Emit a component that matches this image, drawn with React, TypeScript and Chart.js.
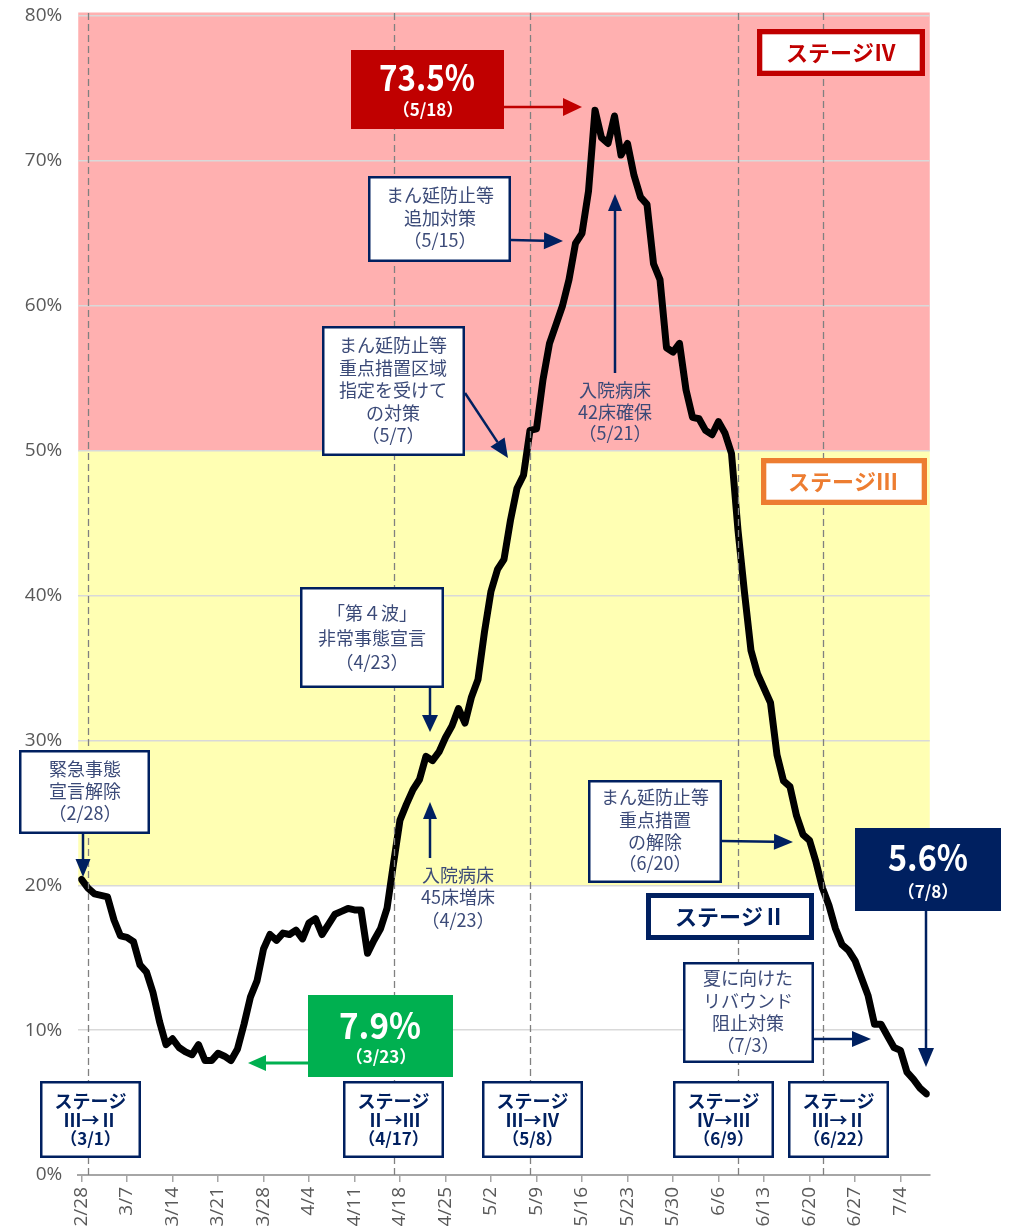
import React, { useEffect, useRef } from "react";
import { Chart, registerables } from "chart.js";

Chart.register(...registerables);

// ---- data ----
// days counted from 2/28 (index 0) to 7/8 (index 130)
const weekTickLabels = ["2/28", "3/7", "3/14", "3/21", "3/28", "4/4", "4/11", "4/18", "4/25", "5/2", "5/9", "5/16", "5/23", "5/30", "6/6", "6/13", "6/20", "6/27", "7/4"];
const weekTickDays = [0, 7, 14, 21, 28, 35, 42, 49, 56, 63, 70, 77, 84, 91, 98, 105, 112, 119, 126];

const occupancy = [
  20.4, 19.8, 19.4, 19.3, 19.2, 17.6, 16.5, 16.4, 16.1, 14.5,
  14.0, 12.6, 10.6, 9.0, 9.4, 8.8, 8.5, 8.3, 9.0, 7.9,
  7.9, 8.4, 8.2, 7.9, 8.7, 10.4, 12.3, 13.4, 15.6, 16.6,
  16.2, 16.7, 16.6, 16.9, 16.3, 17.4, 17.7, 16.6, 17.3, 18.0,
  18.2, 18.4, 18.3, 18.3, 15.3, 16.2, 17.0, 18.4, 21.5, 24.5,
  25.6, 26.6, 27.3, 28.9, 28.6, 29.2, 30.2, 31.0, 32.2, 31.2,
  33.0, 34.2, 37.5, 40.3, 41.8, 42.5, 45.2, 47.4, 48.3, 51.4,
  51.5, 54.9, 57.4, 58.7, 60.0, 61.8, 64.3, 65.0, 67.9, 73.5,
  71.6, 71.2, 73.1, 70.4, 71.2, 69.0, 67.5, 67.0, 62.9, 61.8,
  57.1, 56.8, 57.4, 54.2, 52.3, 52.2, 51.4, 51.1, 52.0, 51.2,
  49.8, 44.5, 40.2, 36.2, 34.6, 33.6, 32.6, 29.0, 27.2, 26.8,
  24.8, 23.5, 23.1, 21.6, 19.8, 18.6, 17.0, 15.9, 15.5, 14.8,
  13.6, 12.4, 10.4, 10.4, 9.6, 8.8, 8.6, 7.1, 6.6, 6.0, 5.6,
];

const stageChangeDates = ["3/1", "4/17", "5/8", "6/9", "6/22"];
const stageBandLimits = [20, 50, 80]; // stage III: 20-50, stage IV: 50-80

function dayIndex(md: string): number {
  const [m, d] = md.split("/").map(Number);
  return Math.round((Date.UTC(2021, m - 1, d) - Date.UTC(2021, 1, 28)) / 86400000);
}

// ---- styles ----
const JP = '"Noto Sans CJK JP", "Noto Sans", sans-serif';
const NAVY = "#002060";
const NOTE = "#3b4a78";
const RED = "#c00000";
const ORANGE = "#ed7d31";
const GREEN = "#00b050";
const YELLOW = "#ffffb3";
const PINK = "#ffb0b0";

function rect(ctx: CanvasRenderingContext2D, x: number, y: number, w: number, h: number, fill: string | null, stroke: string | null, lw = 2.5) {
  ctx.save();
  if (fill) {
    ctx.fillStyle = fill;
    ctx.fillRect(x, y, w, h);
  }
  if (stroke) {
    ctx.strokeStyle = stroke;
    ctx.lineWidth = lw;
    ctx.strokeRect(x + lw / 2, y + lw / 2, w - lw, h - lw);
  }
  ctx.restore();
}

function txt(ctx: CanvasRenderingContext2D, s: string, x: number, y: number, font: string, color: string, maxW?: number) {
  ctx.save();
  ctx.font = font;
  ctx.fillStyle = color;
  ctx.textAlign = "center";
  ctx.textBaseline = "middle";
  if (maxW) ctx.fillText(s, x, y, maxW);
  else ctx.fillText(s, x, y);
  ctx.restore();
}

function lines(ctx: CanvasRenderingContext2D, arr: string[], x: number, ys: number[], font: string, color: string) {
  arr.forEach((s, i) => txt(ctx, s, x, ys[i], font, color));
}

function arrow(ctx: CanvasRenderingContext2D, x1: number, y1: number, x2: number, y2: number, color: string, lw = 2.5, hl = 18, hw = 16) {
  const ang = Math.atan2(y2 - y1, x2 - x1);
  const c = Math.cos(ang);
  const s = Math.sin(ang);
  const bx = x2 - hl * c;
  const by = y2 - hl * s;
  ctx.save();
  ctx.strokeStyle = color;
  ctx.fillStyle = color;
  ctx.lineWidth = lw;
  ctx.beginPath();
  ctx.moveTo(x1, y1);
  ctx.lineTo(bx, by);
  ctx.stroke();
  ctx.beginPath();
  ctx.moveTo(x2, y2);
  ctx.lineTo(bx - (hw / 2) * s, by + (hw / 2) * c);
  ctx.lineTo(bx + (hw / 2) * s, by - (hw / 2) * c);
  ctx.closePath();
  ctx.fill();
  ctx.restore();
}

const decorPlugin = {
  id: "decor",
  beforeDraw(chart: any) {
    const { ctx, chartArea: a, scales } = chart;
    const y = scales.y;
    const y20 = y.getPixelForValue(stageBandLimits[0]);
    const y50 = y.getPixelForValue(stageBandLimits[1]);
    const y80 = y.getPixelForValue(stageBandLimits[2]);
    ctx.save();
    ctx.fillStyle = YELLOW;
    ctx.fillRect(a.left, y50, a.right - a.left, y20 - y50);
    ctx.fillStyle = PINK;
    ctx.fillRect(a.left, y80 - 3.5, a.right - a.left, y50 - y80 + 3.5);
    ctx.restore();
  },
  afterDatasetsDraw(chart: any) {
    const { ctx, chartArea: a, scales } = chart;
    const x = scales.x;

    // stage change dashed lines
    ctx.save();
    ctx.strokeStyle = "#808080";
    ctx.lineWidth = 1.3;
    ctx.setLineDash([7, 4]);
    stageChangeDates.forEach((d) => {
      const px = Math.round(x.getPixelForValue(dayIndex(d))) + 0.5;
      ctx.beginPath();
      ctx.moveTo(px, a.top - 3);
      ctx.lineTo(px, a.bottom);
      ctx.stroke();
    });
    ctx.restore();

    const F = (size: number, bold = false) => `${bold ? "bold " : ""}${size}px ${JP}`;

    // 緊急事態宣言解除
    rect(ctx, 19, 750, 131, 84, "#ffffff", NAVY);
    lines(ctx, ["緊急事態", "宣言解除", "（2/28）"], 85, [769, 791, 813], F(18), NOTE);
    arrow(ctx, 83, 834, 83, 877, NAVY, 2.5, 18, 15);

    // 7.9% (3/23)
    rect(ctx, 308, 995, 145, 82, GREEN, null);
    txt(ctx, "7.9%", 380, 1025, F(36, true), "#ffffff", 82);
    txt(ctx, "（3/23）", 381, 1057, F(17, true), "#ffffff");
    arrow(ctx, 308, 1063, 248, 1063, GREEN, 3, 18, 16);

    // 73.5% (5/18)
    rect(ctx, 351, 50, 153, 79, RED, null);
    txt(ctx, "73.5%", 427, 77, F(36, true), "#ffffff", 96);
    txt(ctx, "（5/18）", 428, 110, F(17, true), "#ffffff");
    arrow(ctx, 503, 107, 582, 107, RED, 2.5, 19, 18);

    // stage labels
    rect(ctx, 757, 29, 168, 47, "#ffffff", RED, 5.3);
    txt(ctx, "ステージⅣ", 841, 53, F(22, true), RED);
    rect(ctx, 761, 458, 166, 47, "#ffffff", ORANGE, 5.3);
    txt(ctx, "ステージⅢ", 843, 482, F(22, true), ORANGE);
    rect(ctx, 646, 893, 168, 47, "#ffffff", NAVY, 5);
    txt(ctx, "ステージⅡ", 730, 917, F(22, true), NAVY);

    // 5.6% (7/8)
    rect(ctx, 855, 828, 146, 83, NAVY, null);
    txt(ctx, "5.6%", 928, 857, F(36, true), "#ffffff", 80);
    txt(ctx, "（7/8）", 928, 892, F(17, true), "#ffffff");
    arrow(ctx, 926, 911, 926, 1067, NAVY, 2.5, 19, 16);

    // まん延防止等 追加対策
    rect(ctx, 368, 176, 143, 86, "#ffffff", NAVY);
    lines(ctx, ["まん延防止等", "追加対策", "（5/15）"], 440, [195, 218, 240], F(18), NOTE);
    arrow(ctx, 511, 240, 563, 241, NAVY, 2.5, 19, 17);

    // 重点措置区域指定
    rect(ctx, 322, 326, 143, 130, "#ffffff", NAVY);
    lines(ctx, ["まん延防止等", "重点措置区域", "指定を受けて", "の対策", "（5/7）"], 393, [345, 368, 390, 413, 435], F(18), NOTE);
    arrow(ctx, 465, 393, 508, 458, NAVY, 2.5, 19, 17);

    // 入院病床42床確保
    lines(ctx, ["入院病床", "42床確保", "（5/21）"], 615, [390, 412, 433], F(18), NOTE);
    arrow(ctx, 615, 373, 615, 194, NAVY, 2.5, 17, 14);

    // 第4波
    rect(ctx, 300, 587, 144, 101, "#ffffff", NAVY);
    lines(ctx, ["「第４波」", "非常事態宣言", "（4/23）"], 372, [613, 638, 662], F(18), NOTE);
    arrow(ctx, 430, 688, 430, 732, NAVY, 2.5, 17, 16);

    // 入院病床45床増床
    lines(ctx, ["入院病床", "45床増床", "（4/23）"], 458, [875, 897, 920], F(18), NOTE);
    arrow(ctx, 430, 858, 430, 802, NAVY, 2.5, 17, 14);

    // 重点措置の解除
    rect(ctx, 588, 780, 134, 103, "#ffffff", NAVY);
    lines(ctx, ["まん延防止等", "重点措置", "の解除", "（6/20）"], 655, [797, 820, 842, 863], F(18), NOTE);
    arrow(ctx, 722, 841, 793, 842, NAVY, 2.5, 19, 16);

    // 夏に向けた
    rect(ctx, 683, 962, 131, 101, "#ffffff", NAVY);
    lines(ctx, ["夏に向けた", "リバウンド", "阻止対策", "（7/3）"], 748, [978, 1001, 1023, 1045], F(18), NOTE);
    arrow(ctx, 814, 1039, 871, 1039, NAVY, 2.5, 19, 16);

    // bottom stage change boxes
    const stageBoxes = [
      { left: 40, t: "Ⅲ→Ⅱ", d: "（3/1）" },
      { left: 343, t: "Ⅱ→Ⅲ", d: "（4/17）" },
      { left: 482, t: "Ⅲ→Ⅳ", d: "（5/8）" },
      { left: 673, t: "Ⅳ→Ⅲ", d: "（6/9）" },
      { left: 788, t: "Ⅲ→Ⅱ", d: "（6/22）" },
    ];
    stageBoxes.forEach((b) => {
      rect(ctx, b.left, 1081, 101, 77, "#ffffff", NAVY);
      const cx = b.left + 50.5;
      txt(ctx, "ステージ", cx, 1101, F(18, true), NAVY);
      txt(ctx, b.t, cx, 1120, F(18, true), NAVY);
      txt(ctx, b.d, cx, 1139, F(17, true), NAVY);
    });
  },
};

export default function App() {
  const ref = useRef<HTMLCanvasElement>(null);
  useEffect(() => {
    document.body.style.margin = "0";
    const canvas = ref.current!;
    const chart = new Chart(canvas, {
      type: "line",
      data: {
        datasets: [
          {
            data: occupancy.map((v, i) => ({ x: i, y: v })),
            borderColor: "#000000",
            borderWidth: 7,
            pointRadius: 0,
            tension: 0,
            borderJoinStyle: "round",
            borderCapStyle: "round",
            fill: false,
          },
        ],
      },
      options: {
        responsive: false,
        animation: false,
        devicePixelRatio: 1,
        layout: { padding: { top: 16, right: 79.25, bottom: 0, left: 0 } },
        plugins: { legend: { display: false }, tooltip: { enabled: false } },
        scales: {
          x: {
            type: "linear",
            min: -0.5,
            max: 130.5,
            afterBuildTicks: (s: any) => {
              s.ticks = weekTickDays.map((v) => ({ value: v }));
            },
            afterFit: (s: any) => {
              s.height = 57;
              s.paddingLeft = 0;
              s.paddingRight = 0;
            },
            grid: { drawOnChartArea: false, drawTicks: true, tickLength: 7, color: "#a6a6a6", lineWidth: 1.5 },
            border: { display: true, color: "#a6a6a6", width: 2 },
            ticks: {
              autoSkip: false,
              maxRotation: 90,
              minRotation: 90,
              padding: 5,
              color: "#595959",
              font: { family: '"Open Sans", sans-serif', size: 19 },
              callback: (v: any) => {
                const i = weekTickDays.indexOf(Number(v));
                return i >= 0 ? weekTickLabels[i] : "";
              },
            },
          },
          y: {
            min: 0,
            max: 80,
            afterFit: (s: any) => {
              s.width = 78.25;
              s.paddingTop = 0;
              s.paddingBottom = 0;
            },
            grid: { color: "#d9d9d9", lineWidth: 1.5, drawTicks: false },
            border: { display: false },
            ticks: {
              stepSize: 10,
              padding: 16,
              color: "#595959",
              font: { family: '"Open Sans", sans-serif', size: 19 },
              callback: (v: any) => `${v}%`,
            },
          },
        },
      } as any,
      plugins: [decorPlugin],
    });
    return () => chart.destroy();
  }, []);
  return (
    <div>
      <style>{"body{margin:0}"}</style>
      <canvas ref={ref} width={1009} height={1232} style={{ display: "block", width: 1009, height: 1232 }} />
    </div>
  );
}
